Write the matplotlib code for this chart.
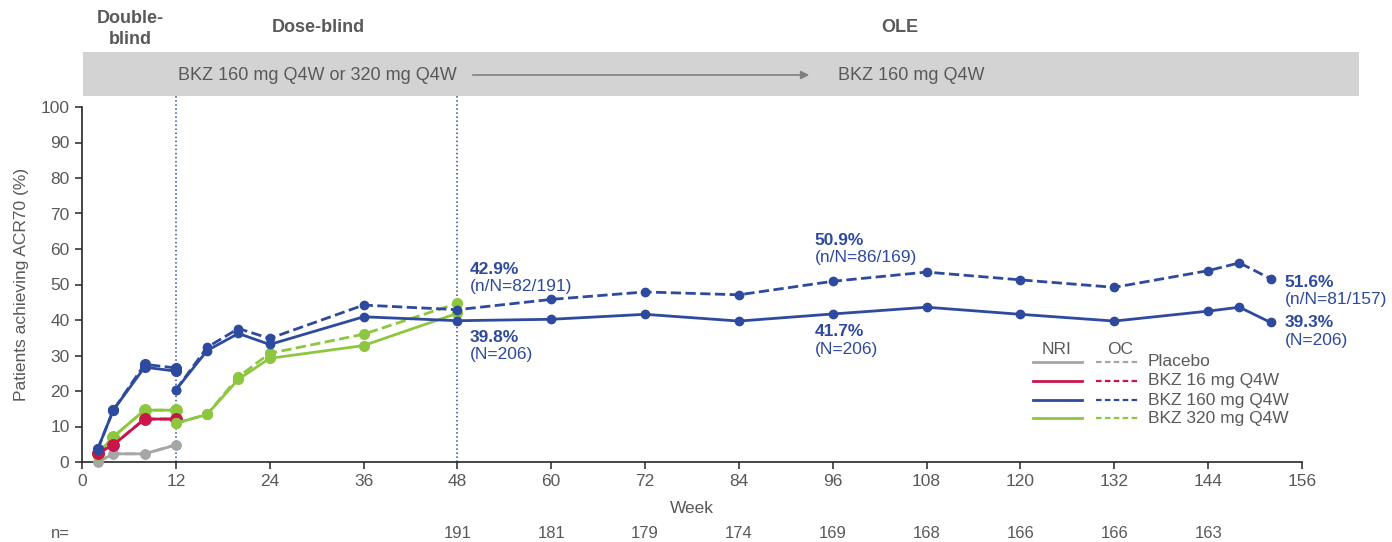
import matplotlib
matplotlib.use("Agg")
import matplotlib.pyplot as plt
from matplotlib.lines import Line2D

plt.rcParams['font.family'] = ['Liberation Sans', 'DejaVu Sans']

GRAY_TXT = '#595959'
BLUE = '#2E4A9E'
RED = '#C8164B'
GREEN = '#8DC63F'
GREY = '#A6A6A6'

# Double-blind period (weeks 2-12)
db_weeks = [2, 4, 8, 12]
pbo_nri = [0.0, 2.3, 2.3, 4.8]
pbo_oc = [0.0, 2.3, 2.3, 4.8]
bkz16_nri = [2.5, 4.8, 12.1, 12.1]
bkz16_oc = [2.5, 4.8, 12.1, 12.1]
bkz160_db_nri = [3.6, 14.6, 26.7, 25.6]
bkz160_db_oc = [3.6, 14.6, 27.5, 26.5]
bkz320_db_nri = [2.3, 7.1, 14.6, 14.6]
bkz320_db_oc = [2.3, 7.1, 14.6, 14.6]

# Dose-blind BKZ 320 mg (weeks 12-48)
b320_weeks = [12, 16, 20, 24, 36, 48]
bkz320_nri = [10.9, 13.4, 23.3, 29.2, 32.8, 41.9]
bkz320_oc = [10.9, 13.4, 24.0, 30.6, 36.0, 44.7]

# Dose-blind + OLE BKZ 160 mg (weeks 12-152)
b160_weeks = [12, 16, 20, 24, 36, 48, 60, 72, 84, 96, 108, 120, 132, 144, 148, 152]
bkz160_nri = [20.3, 31.4, 36.2, 33.1, 40.9, 39.8, 40.2, 41.6, 39.7, 41.7, 43.6, 41.6, 39.7, 42.5, 43.6, 39.3]
bkz160_oc = [20.3, 32.3, 37.6, 34.8, 44.2, 42.9, 45.8, 47.9, 47.1, 50.9, 53.5, 51.3, 49.2, 53.9, 56.1, 51.6]

n_weeks = [48, 60, 72, 84, 96, 108, 120, 132, 144]
n_values = [191, 181, 179, 174, 169, 168, 166, 166, 163]

x_ticks = list(range(0, 157, 12))
y_ticks = list(range(0, 101, 10))

fig = plt.figure(figsize=(13.92, 5.42), dpi=100)
ax = fig.add_axes([82/1392, 1-462/542, 1220/1392, 355/542])

lw = 2.0
ms = 6.5

def series(x, y, color, ls, ms_=ms):
    ax.plot(x, y, color=color, linestyle=ls, linewidth=lw, marker='o',
            markersize=ms_, clip_on=False, zorder=3)

# dashed (OC) first, solid (NRI) on top
series(db_weeks, pbo_oc, GREY, '--')
series(db_weeks, pbo_nri, GREY, '-')
series(db_weeks, bkz320_db_oc, GREEN, '--', 8)
series(db_weeks, bkz320_db_nri, GREEN, '-', 8)
series(db_weeks, bkz16_oc, RED, '--', 8)
series(db_weeks, bkz16_nri, RED, '-', 8)
series(db_weeks, bkz160_db_oc, BLUE, '--', 7)
series(db_weeks, bkz160_db_nri, BLUE, '-', 7)
series(b320_weeks, bkz320_oc, GREEN, '--', 7)
series(b320_weeks, bkz320_nri, GREEN, '-', 7)
series(b160_weeks, bkz160_oc, BLUE, '--', 6)
series(b160_weeks, bkz160_nri, BLUE, '-', 6)

# vertical dotted lines at weeks 12 and 48
for w in (12, 48):
    ax.axvline(w, ymin=0, ymax=1.033, color=BLUE, linestyle=':', linewidth=1.1,
               clip_on=False, zorder=2)

ax.set_xlim(0, 156)
ax.set_ylim(0, 100)
ax.set_xticks(x_ticks)
ax.set_yticks(y_ticks)
ax.spines['top'].set_visible(False)
ax.spines['right'].set_visible(False)
for s in ('left', 'bottom'):
    ax.spines[s].set_color('#262626')
    ax.spines[s].set_linewidth(1.2)
ax.tick_params(axis='both', direction='out', length=5, width=1.1, color='#262626',
               labelsize=12.5, labelcolor=GRAY_TXT, pad=4)
ax.set_ylabel('Patients achieving ACR70 (%)', fontsize=12.5, color=GRAY_TXT, labelpad=8)
ax.set_xlabel('Week', fontsize=12.5, color=GRAY_TXT, labelpad=8)

# annotations
ann = [
    (49.6, 54.1, '42.9%', True), (49.6, 49.3, '(n/N=82/191)', False),
    (49.6, 35.2, '39.8%', True), (49.6, 30.4, '(N=206)', False),
    (93.7, 62.3, '50.9%', True), (93.7, 57.5, '(n/N=86/169)', False),
    (93.7, 36.9, '41.7%', True), (93.7, 31.8, '(N=206)', False),
    (153.8, 50.7, '51.6%', True), (153.8, 45.9, '(n/N=81/157)', False),
    (153.8, 39.4, '39.3%', True), (153.8, 34.1, '(N=206)', False),
]
for x, y, t, b in ann:
    ax.text(x, y, t, color=BLUE, fontsize=12.5, fontweight='bold' if b else 'normal',
            ha='left', va='center', clip_on=False)

# n= row
fig.text(60/1392, 1-533/542, 'n=', fontsize=12, color=GRAY_TXT, ha='center', va='center')
for w, n in zip(n_weeks, n_values):
    ax.annotate(str(n), xy=(w, 0), xycoords=('data', 'axes fraction'),
                xytext=(0, -71), textcoords='offset pixels',
                ha='center', va='center', fontsize=12, color=GRAY_TXT)

# custom legend
leg_colors = [GREY, RED, BLUE, GREEN]
leg_labels = ['Placebo', 'BKZ 16 mg Q4W', 'BKZ 160 mg Q4W', 'BKZ 320 mg Q4W']
row_y = [(462-362)/355, (462-381)/355, (462-400)/355, (462-418)/355]
x0, x1 = (1033-82)/1220, (1082-82)/1220
x2, x3 = (1096-82)/1220, (1140-82)/1220
xl = (1148-82)/1220
for c, lab, yy in zip(leg_colors, leg_labels, row_y):
    ax.add_line(Line2D([x0, x1], [yy, yy], color=c, lw=2, transform=ax.transAxes, clip_on=False))
    ax.add_line(Line2D([x2, x3], [yy, yy], color=c, lw=1.6, ls='--', transform=ax.transAxes,
                       clip_on=False, dashes=(2.5, 1.5)))
    ax.text(xl, yy, lab, transform=ax.transAxes, fontsize=12.5, color=GRAY_TXT,
            ha='left', va='center')
ax.text((1057-82)/1220, (462-349)/355, 'NRI', transform=ax.transAxes, fontsize=12.5,
        color=GRAY_TXT, ha='center', va='center')
ax.text((1120-82)/1220, (462-349)/355, 'OC', transform=ax.transAxes, fontsize=12.5,
        color=GRAY_TXT, ha='center', va='center')

# banner
banner = plt.Rectangle((83/1392, 1-95.5/542), (1359-83)/1392, 43.5/542,
                       transform=fig.transFigure, facecolor='#D3D3D3', edgecolor='none', zorder=0)
fig.patches.append(banner)
fig.text(178/1392, 1-75/542, 'BKZ 160 mg Q4W or 320 mg Q4W', fontsize=13, color=GRAY_TXT,
         ha='left', va='center')
fig.text(838/1392, 1-75/542, 'BKZ 160 mg Q4W', fontsize=13, color=GRAY_TXT,
         ha='left', va='center')
fig.add_artist(matplotlib.patches.FancyArrowPatch((470/1392, 1-75/542), (812/1392, 1-75/542),
               transform=fig.transFigure, arrowstyle='-|>', mutation_scale=12,
               color='#7F7F7F', lw=1.2))

fig.text(130/1392, 1-29/542, 'Double-\nblind', fontsize=13, color=GRAY_TXT, fontweight='bold',
         ha='center', va='center', linespacing=1.25)
fig.text(318/1392, 1-27/542, 'Dose-blind', fontsize=13, color=GRAY_TXT, fontweight='bold',
         ha='center', va='center')
fig.text(900/1392, 1-28/542, 'OLE', fontsize=13, color=GRAY_TXT, fontweight='bold',
         ha='center', va='center')

fig.savefig('out.png', dpi=100, facecolor='white')
